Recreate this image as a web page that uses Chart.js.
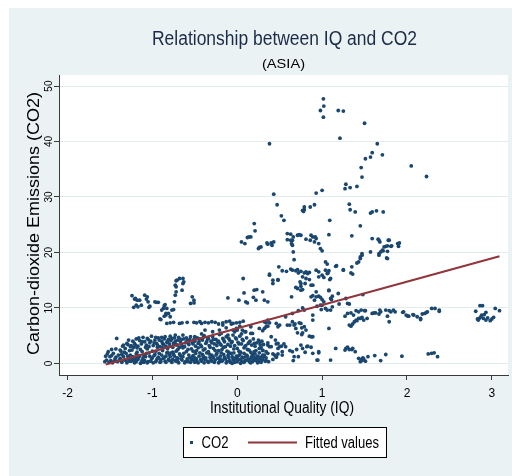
<!DOCTYPE html>
<html>
<head>
<meta charset="utf-8">
<title>Relationship between IQ and CO2</title>
<script src="https://cdn.jsdelivr.net/npm/chart.js@4.4.1/dist/chart.umd.min.js"></script>
<style>
  html, body { margin: 0; padding: 0; background: #fff; }
  canvas { display: block; }
</style>
</head>
<body>
<canvas id="chart" width="512" height="476"></canvas>
<script>
// axis ticks
const iqTicks = [-2, -1, 0, 1, 2, 3];
const co2Ticks = [0, 10, 20, 30, 40, 50];

// fitted line end points (IQ, CO2)
const fittedIQ = [-1.55, 3.09];
const fittedCO2 = [-0.2, 19.3];

// observations [IQ, CO2], grouped by where they sit
const lowCluster = [
  [-1.56,0.3],[-1.55,1.3],[-1.52,2.1],[-1.50,1.2],[-1.49,0.5],[-1.47,0.1],[-1.46,1.8],[-1.44,0.8],[-1.43,2.6],[-1.42,4.5],
  [-1.41,0.3],[-1.40,1.5],[-1.38,0.9],[-1.37,2.2],[-1.36,0.2],[-1.35,3.1],[-1.34,1.2],[-1.33,0.6],[-1.32,2.7],[-1.31,1.8],
  [-1.30,0.1],[-1.29,3.4],[-1.28,0.9],[-1.27,2.3],[-1.26,1.5],[-1.48,2.5],[-1.38,2.4],[-1.34,3.3],[-1.30,3.6],[-1.28,4.2],
  [-1.25,3.2],[-1.23,4.0],[-1.21,3.6],[-1.19,4.4],[-1.17,3.1],[-1.15,4.1],[-1.13,3.5],[-1.11,4.7],[-1.09,3.9],[-1.07,3.3],
  [-1.05,4.3],[-1.03,3.7],[-1.01,4.9],[-0.99,3.2],[-0.97,4.2],[-0.95,3.6],[-0.93,4.6],[-0.91,3.0],[-0.89,4.0],[-0.87,3.4],
  [-0.85,4.8],[-0.83,3.8],[-0.81,4.3],[-0.79,3.1],[-0.77,4.5],[-0.75,3.6],[-0.73,4.0],[-0.71,3.3],[-0.69,4.7],[-0.67,3.9],
  [-0.65,3.2],[-0.63,4.4],[-0.61,3.7],[-0.89,4.7],[-0.79,4.9],[-0.73,5.1],[-0.64,5.1],[-0.50,4.8],
  [-1.24,2.4],[-1.18,2.8],[-1.12,2.1],[-1.06,2.6],[-1.00,2.2],[-0.94,2.9],[-0.88,2.3],[-0.82,2.7],[-0.76,2.0],[-0.70,2.5],[-0.64,2.8],
  [-1.25,0.4],[-1.23,1.2],[-1.21,0.1],[-1.19,1.7],[-1.17,0.7],[-1.15,1.4],[-1.13,0.2],[-1.11,1.0],[-1.09,0.5],[-1.07,1.8],
  [-1.05,0.3],[-1.03,1.3],[-1.01,0.8],[-0.99,0.1],[-0.97,1.6],[-0.95,0.6],[-0.93,1.1],[-0.91,0.2],[-0.89,1.5],[-0.87,0.9],
  [-0.85,0.4],[-0.83,1.9],[-0.81,0.7],[-0.79,1.2],[-0.77,0.2],[-0.75,1.6],[-0.73,0.5],[-0.71,1.0],[-0.69,0.1],[-0.67,1.4],
  [-0.65,0.6],[-0.63,1.8],[-0.61,0.3],[-1.20,0.9],[-1.10,1.5],[-1.00,1.0],[-0.90,0.7],[-0.80,1.6],[-0.70,0.9],[-1.14,0.0],
  [-0.96,0.3],[-0.84,1.3],[-0.72,0.4],
  [-0.59,4.1],[-0.57,3.4],[-0.55,4.8],[-0.53,3.7],[-0.51,4.3],[-0.49,3.1],[-0.47,4.6],[-0.45,3.9],[-0.43,3.3],[-0.41,4.2],
  [-0.39,5.0],[-0.37,3.6],[-0.35,4.4],[-0.33,3.2],[-0.31,4.0],[-0.29,4.8],[-0.27,3.5],[-0.25,4.3],[-0.23,3.8],[-0.21,5.2],
  [-0.19,3.3],[-0.17,4.5],[-0.15,3.9],[-0.13,4.8],[-0.11,3.4],[-0.09,4.2],[-0.07,3.7],[-0.05,5.1],[-0.03,3.2],[-0.01,4.4],
  [0.01,3.8],[0.03,4.9],[0.05,3.5],[0.07,4.1],[0.09,3.0],[0.11,4.6],[0.13,3.6],[0.15,4.0],[0.17,3.3],[0.19,4.4],
  [0.21,3.1],[0.23,3.7],[0.25,4.2],[0.27,3.4],
  [-0.58,2.5],[-0.52,2.2],[-0.46,2.8],[-0.40,2.4],[-0.34,2.1],[-0.28,2.7],[-0.22,2.3],[-0.16,2.9],[-0.10,2.0],[-0.04,2.6],
  [0.02,2.2],[0.08,2.8],[0.14,2.4],[0.20,2.1],[0.26,2.7],[0.30,2.3],
  [-0.59,0.8],[-0.57,1.5],[-0.55,0.2],[-0.53,1.1],[-0.51,0.5],[-0.49,1.8],[-0.47,0.3],[-0.45,1.3],[-0.43,0.7],[-0.41,1.6],
  [-0.39,0.1],[-0.37,1.0],[-0.35,0.4],[-0.33,1.7],[-0.31,0.6],[-0.29,1.2],[-0.27,0.2],[-0.25,1.5],[-0.23,0.9],[-0.21,0.3],
  [-0.19,1.9],[-0.17,0.6],[-0.15,1.1],[-0.13,0.1],[-0.11,1.4],[-0.09,0.5],[-0.07,1.8],[-0.05,0.8],[-0.03,0.2],[-0.01,1.3],
  [0.01,0.6],[0.03,1.6],[0.05,0.3],[0.07,1.0],[0.09,0.4],[0.11,1.5],[0.13,0.7],[0.15,0.2],[0.17,1.2],[0.19,0.5],
  [0.21,1.7],[0.23,0.9],[0.25,0.3],[0.27,1.1],[0.29,0.6],[-0.50,1.0],[-0.40,0.9],[-0.30,1.5],[-0.20,0.7],[-0.10,1.0],
  [0.00,0.9],[0.10,1.2],[0.20,0.8],[0.04,0.0],[0.16,0.1],[-0.06,0.0]
];

// second pass over the dense block, filling the gaps
const lowClusterFill = [
  [-1.54,0.6],[-1.53,1.7],[-1.51,0.2],[-1.48,1.4],[-1.45,0.4],[-1.43,1.1],[-1.39,0.6],[-1.36,1.6],[-1.33,2.0],[-1.31,0.5],
  [-1.29,1.3],[-1.27,0.4],[-1.26,3.0],
  [-1.24,0.8],[-1.22,2.9],[-1.22,0.5],[-1.20,3.3],[-1.19,0.3],[-1.18,2.0],[-1.16,4.6],[-1.16,1.1],[-1.14,2.5],[-1.12,3.9],
  [-1.12,0.6],[-1.10,0.2],[-1.08,2.9],[-1.08,1.2],[-1.06,4.5],[-1.06,0.1],[-1.04,3.0],[-1.04,1.9],[-1.02,0.4],[-1.02,4.0],
  [-0.98,1.4],[-0.98,3.7],[-0.96,2.2],[-0.96,4.7],[-0.94,0.9],[-0.94,3.3],[-0.92,1.8],[-0.92,4.2],[-0.90,0.3],[-0.88,2.8],
  [-0.88,3.6],[-0.86,1.1],[-0.86,4.4],[-0.84,0.2],[-0.84,3.1],[-0.82,2.0],[-0.82,4.0],[-0.80,0.5],[-0.80,3.5],[-0.78,1.9],
  [-0.78,4.1],[-0.76,0.7],[-0.76,2.9],[-0.74,1.3],[-0.74,4.6],[-0.72,3.4],[-0.72,2.2],[-0.70,0.3],[-0.70,4.2],[-0.68,1.7],
  [-0.68,2.9],[-0.66,0.8],[-0.66,4.3],[-0.64,1.2],[-0.62,3.0],[-0.62,0.1],[-0.60,2.1],[-0.60,4.6],
  [-0.58,0.3],[-0.58,3.8],[-0.56,1.0],[-0.56,4.3],[-0.54,2.6],[-0.54,0.6],[-0.52,3.5],[-0.52,1.4],[-0.50,0.2],[-0.50,4.0],
  [-0.48,2.3],[-0.48,0.8],[-0.46,3.6],[-0.46,0.1],[-0.44,1.9],[-0.44,4.4],[-0.42,0.4],[-0.42,3.0],[-0.40,1.3],[-0.40,4.7],
  [-0.38,0.7],[-0.38,2.6],[-0.36,1.9],[-0.36,3.9],[-0.34,0.2],[-0.34,4.5],[-0.32,1.1],[-0.32,2.9],[-0.30,0.4],[-0.30,3.7],
  [-0.28,1.0],[-0.28,4.3],[-0.26,0.6],[-0.26,2.3],[-0.24,1.8],[-0.24,3.2],[-0.22,0.1],[-0.22,4.0],[-0.20,1.3],[-0.20,3.5],
  [-0.18,0.4],[-0.18,2.5],[-0.16,1.6],[-0.16,4.2],[-0.14,0.8],[-0.14,3.0],[-0.12,0.3],[-0.12,2.2],[-0.10,1.7],[-0.10,4.5],
  [-0.08,0.2],[-0.08,3.1],[-0.06,1.2],[-0.06,3.9],[-0.04,0.5],[-0.04,1.9],[-0.02,0.9],[-0.02,4.6],[0.00,0.3],[0.00,2.7],
  [0.02,1.4],[0.02,3.5],[0.04,0.7],[0.04,2.0],[0.06,1.1],[0.06,4.3],[0.08,0.2],[0.08,1.8],[0.10,0.6],[0.10,3.2],
  [0.12,1.3],[0.12,2.5],[0.14,0.4],[0.14,3.8],[0.16,0.9],[0.16,2.0],[0.18,0.3],[0.18,1.6],[0.20,1.1],[0.20,3.6],
  [0.22,0.5],[0.22,2.3],[0.24,1.3],[0.24,0.1],[0.26,0.8],[0.26,1.9],[0.28,0.2],[0.28,2.9],[0.30,0.7],[0.30,1.5],
  [0.31,3.4],[0.29,4.0]
];

const lowMid = [
  [0.36,3.3],[0.40,3.0],[0.46,3.5],[0.48,2.7],[0.52,3.1],[0.55,3.5],[0.57,3.0],[0.48,1.7],[0.46,1.1],[0.53,1.5],
  [0.36,1.8],[0.32,1.2],[0.82,3.0],[0.87,4.8],[0.67,1.2],[0.65,2.1],[0.36,3.7],[0.38,3.0],[0.26,3.9],[0.30,2.4],
  [0.34,1.0],[0.42,0.7],[0.44,1.5],[0.33,0.4],[0.62,2.3],[0.70,2.5],[0.80,2.0],[0.66,0.5],[0.72,1.2],[0.50,3.0],
  [0.53,2.1],[0.46,1.3],[0.42,1.7],[0.34,2.1],[0.32,1.5],[0.30,1.1],[0.34,0.5],[0.37,0.3],
  [0.96,2.1],[1.10,0.6],[1.16,2.7],[1.27,2.4],[1.30,2.9],[1.35,2.5],[1.36,2.7],[1.28,2.7],[1.32,2.5],[1.39,2.1],
  [1.43,0.9],[1.45,0.3],[1.47,0.5],[1.49,0.8],[1.51,0.4],[1.54,1.2],[1.48,1.0],[1.46,0.7],[1.62,1.4],[1.69,0.5],
  [1.75,1.6],[1.94,1.3],[2.25,1.7],[2.29,1.8],[2.32,1.9],[2.36,1.2],[0.94,0.6],[0.75,3.3],[0.77,2.7],[0.83,3.1],
  [0.87,2.9],[0.89,1.8],[0.96,1.9],[0.95,0.6]
];

const band7 = [
  [-0.83,7.2],[-0.79,7.3],[-0.75,7.4],[-0.68,7.2],[-0.65,7.3],[-0.59,7.4],[-0.51,7.4],[-0.48,7.3],[-0.44,7.5],[-0.42,7.2],
  [-0.38,7.4],[-0.34,7.3],[-0.30,7.5],[-0.26,7.4],[-0.22,7.1],[-0.17,7.3],[-0.13,7.5],[-0.09,7.6],[-0.05,7.2],[-0.01,7.3],
  [0.03,7.4],[0.07,7.6],[-0.38,6.0],[-0.42,5.3],[-0.90,7.9],[-0.29,5.7],[-0.19,5.4],[-0.11,5.1],[-0.03,5.7],[0.05,5.3]
];

const leftGroup = [
  [-1.24,12.2],[-1.20,11.7],[-1.18,11.4],[-1.19,10.5],[-1.22,10.1],[-1.17,10.2],[-1.15,11.4],[-1.13,10.5],[-1.09,12.3],[-1.07,11.6],
  [-1.05,11.1],[-1.04,10.1],[-1.03,10.3],[-0.97,11.1],[-0.95,11.0],[-0.93,11.0],[-0.89,9.6],[-0.87,9.9],[-0.86,10.4],[-0.85,10.6],
  [-0.84,9.0],[-0.81,9.0],[-0.84,8.7],[-0.79,8.4],[-0.91,8.0],[-0.86,8.5],[-0.77,9.6],[-0.75,9.7],[-0.74,11.1],[-0.73,12.3],
  [-0.72,12.9],[-0.72,13.8],[-0.73,14.1],[-0.72,14.9],[-0.71,15.0],[-0.68,15.3],[-0.64,15.3],[-0.63,14.7],[-0.64,14.4],[-0.65,13.2],
  [-0.53,12.0],[-0.51,11.4],[-0.55,10.8],[-0.51,10.9],[-0.83,9.9],[-1.21,11.6],[-1.06,12.0]
];

const midScatter = [
  [-0.11,11.8],[0.02,11.4],[0.08,12.7],[0.10,11.1],[0.12,10.9],[0.19,11.9],[0.20,13.2],[0.23,13.3],[0.22,11.4],[0.30,12.9],
  [0.32,11.4],[0.36,11.1],[0.42,14.4],[0.07,15.3],[0.49,17.4],[0.48,15.0],[0.38,16.1],[0.38,15.9],[0.42,15.0],[0.48,15.1],
  [0.53,16.7],[0.58,16.6],[0.63,17.0],[0.69,16.7],[0.72,16.3],[0.75,16.6],[0.79,16.3],[0.83,16.2],[0.85,16.4],[0.65,16.8],
  [0.71,16.9],[0.81,16.5],[0.77,15.6],[0.81,15.3],[0.85,15.1],[0.80,14.4],[0.75,14.4],[0.71,13.5],[0.69,13.7],[0.75,13.2],
  [0.87,14.1],[0.89,14.1],[0.74,14.7],[0.75,13.9],[0.77,13.3],[0.93,16.8],[0.96,16.5],[1.00,15.9],[1.02,15.5],[1.04,16.8],
  [1.06,16.2],[1.10,15.3],[0.96,15.6],[1.07,16.3],[1.09,15.1],
  [0.67,18.7],[0.66,20.1],[0.64,21.6],[0.59,22.3],[0.63,22.2],[0.59,23.4],[0.63,23.3],[0.66,22.8],[0.65,21.3],[0.65,22.2],
  [0.71,23.1],[0.75,23.1],[0.73,23.2],[0.87,23.1],[0.89,22.8],[0.93,22.5],[0.96,21.6],[0.98,20.7],[1.00,20.3],[0.91,21.9],
  [0.81,22.4],[0.86,22.2],[0.92,22.8],
  [0.28,21.0],[0.36,21.5],[0.40,21.7],[0.41,21.3],[0.20,25.2],[0.21,23.9],[0.12,22.7],[0.14,22.8],[0.16,22.8],[0.05,21.9],
  [0.09,21.6],[0.26,20.9],[0.35,21.7],[0.43,21.9],[0.25,20.7],
  [0.32,7.5],[0.36,7.8],[0.32,6.3],[0.36,6.7],[0.46,7.2],[0.48,6.6],[0.59,6.9],[0.65,7.5],[0.67,6.9],[0.69,6.3],
  [0.75,7.2],[0.79,6.6],[0.81,6.0],[0.77,5.5],[0.89,4.8],[0.34,7.3],[0.38,7.3],[0.50,6.9],[0.62,6.9],[0.68,7.1],
  [0.73,7.3],[0.76,6.4],[0.71,5.5],[0.76,5.2],[0.85,4.9],[0.89,7.8],[0.89,8.7],[0.57,8.4],[0.65,9.0],[0.72,9.5],
  [0.77,10.0],[0.79,9.6],[0.94,10.3],[1.00,10.5],[1.04,9.9],[1.06,9.6],[1.10,9.6],[1.20,10.7],[0.64,12.0],[0.87,12.0],
  [0.89,12.2],[0.93,12.0],[0.96,12.1],[0.98,11.9],[1.00,11.5],[0.91,11.4],[1.08,13.1],[1.11,11.5],[1.19,12.6],[1.28,11.7],
  [1.30,10.8],[1.32,10.7],[1.48,12.4],[0.93,12.9],[0.98,10.5],[1.02,11.1],[1.10,11.7],[1.12,12.1],[1.08,13.2],[0.99,9.7],
  [1.12,10.2],[1.08,6.3],
  [-0.21,6.0],[-0.17,6.9],[-0.13,6.4],[-0.07,7.1],[-0.05,6.0],[-0.01,6.3],[0.03,6.7],[0.06,6.0],[0.10,5.7],[0.16,6.6],
  [0.18,5.4],[0.26,6.3],[0.30,5.9],[0.34,6.6],[0.40,4.8],[0.45,4.2],[0.48,3.6],[0.00,6.0],[0.09,5.7],[0.16,5.4]
];

const upperGroup = [
  [1.04,18.3],[1.06,17.9],[1.08,16.7],[1.16,17.5],[1.25,16.9],[1.35,17.4],[1.36,16.1],[1.43,18.3],[1.45,19.2],[1.47,19.8],
  [1.57,20.1],[1.67,19.8],[1.69,20.1],[1.71,20.4],[1.73,21.0],[1.75,21.1],[1.77,20.2],[1.76,19.0],[1.81,21.1],[1.79,22.2],
  [1.89,21.6],[1.91,21.7],[1.90,21.1],[1.67,22.2],[1.59,22.5],[1.66,22.4],[1.68,21.9],[1.78,22.2],[1.82,21.2],[1.77,21.2],
  [1.72,20.3],[1.67,19.5],[1.77,18.9],[1.47,19.5],[1.45,18.9],[1.41,18.1],[1.34,16.3],[1.25,16.8],[1.17,17.6],
  [1.08,23.2],[1.35,23.0],[1.45,24.8],[1.09,25.8],[1.32,28.7],[1.33,27.7],[1.39,27.3],[1.57,27.1],[1.59,27.3],[1.64,27.5],
  [1.72,27.3],[1.00,31.2],[0.93,30.7],[1.28,32.3],[1.27,31.5],[1.33,31.7],[1.41,31.9],[1.46,35.3],[1.47,33.6],[1.51,36.9],
  [1.57,37.2],[1.59,38.0],[1.71,37.6],[1.65,39.6],[1.21,40.6],[1.50,43.3],[1.19,45.6],[1.25,45.5],[0.98,45.6],[1.015,44.4],
  [1.02,46.4],[1.015,47.7],[0.38,39.6],[2.05,35.6],[2.23,33.7],[0.52,26.6],[0.55,25.8],[0.47,28.6],[0.43,30.5],[0.78,27.4],
  [0.79,27.7],[0.86,28.2],[0.91,28.6],[0.77,27.6],[0.79,28.2]
];

const rightBand = [
  [1.27,8.5],[1.30,9.0],[1.34,9.1],[1.37,8.7],[1.40,9.5],[1.43,9.3],[1.46,9.6],[1.51,9.5],[1.59,9.0],[1.61,9.1],
  [1.67,8.9],[1.69,9.3],[1.77,8.5],[1.79,9.5],[1.81,9.3],[1.84,9.6],[1.86,9.3],[1.96,9.3],[1.99,8.7],[2.02,8.5],
  [2.08,8.7],[2.12,8.4],[2.16,8.1],[2.18,8.9],[2.21,9.0],[2.23,9.2],[2.29,9.9],[2.33,9.9],[2.38,9.6],[1.34,6.7],
  [1.36,7.1],[1.38,7.5],[1.40,7.8],[1.43,8.1],[1.47,8.3],[1.49,7.8],[1.53,8.1],[1.79,7.5],[1.32,6.9],[1.41,7.7],
  [1.45,8.1],[1.50,9.5],[1.63,9.1],[1.68,9.6],[1.75,9.6],[1.95,9.2],[2.01,8.5],[2.07,8.8],[2.16,7.9],[2.24,9.3],
  [2.38,9.4]
];

const farRight = [
  [2.81,9.4],[2.86,10.4],[2.89,10.4],[2.93,9.2],[2.83,8.0],[2.85,8.1],[2.87,8.4],[2.90,8.1],[2.93,7.8],[2.95,8.2],
  [2.98,7.7],[3.00,8.0],[3.02,8.3],[2.88,8.7],[2.91,8.8],[3.04,9.9],[3.09,9.5],[2.84,7.8]
];

const co2Points = [...lowCluster, ...lowClusterFill, ...lowMid, ...band7, ...leftGroup,
  ...midScatter, ...upperGroup, ...rightBand, ...farRight]
  .map(([iq, co2]) => ({ x: iq, y: co2 }));

const FONT = "'Liberation Sans', Arial, sans-serif";
const BG = '#eaf2f3';
const GRID = '#e3eced';
const AXIS = '#3a3a3a';

// text helper: optional rotation and squeeze to a given width
function putText(ctx, text, x, y, o) {
  ctx.save();
  ctx.font = `${o.size}px ${FONT}`;
  ctx.fillStyle = o.color || '#000';
  ctx.textBaseline = 'alphabetic';
  ctx.textAlign = 'left';
  ctx.translate(x, y);
  if (o.rotate) ctx.rotate(o.rotate);
  const w = ctx.measureText(text).width;
  const sx = o.width ? o.width / w : 1;
  ctx.scale(sx, 1);
  const off = o.align === 'center' ? -w / 2 : (o.align === 'right' ? -w : 0);
  ctx.fillText(text, off, 0);
  ctx.restore();
}

const stataFrame = {
  id: 'stataFrame',
  beforeDraw(chart) {
    const { ctx, chartArea: a } = chart;
    ctx.save();
    ctx.fillStyle = '#fff';
    ctx.fillRect(0, 0, chart.width, chart.height);
    ctx.fillStyle = BG;
    ctx.fillRect(9, 8, chart.width - 9, chart.height - 8);
    ctx.fillStyle = '#fff';
    ctx.fillRect(a.left, a.top, a.right - a.left, a.bottom - a.top);
    ctx.restore();
  },
  afterDraw(chart) {
    const { ctx } = chart;
    const yScale = chart.scales.y;

    putText(ctx, 'Relationship between IQ and CO2', 284.5, 45, { size: 20, color: '#1c2b4a', align: 'center', width: 265 });
    putText(ctx, '(ASIA)', 283.5, 68, { size: 12, align: 'center', width: 43 });

    // y tick labels, rotated
    co2Ticks.forEach(v => {
      putText(ctx, String(v), 52, yScale.getPixelForValue(v), { size: 10, align: 'center', rotate: -Math.PI / 2 });
    });

    putText(ctx, 'Carbon-dioxide Emissions (CO2)', 39, 223.5, { size: 16, align: 'center', rotate: -Math.PI / 2, width: 263 });
    putText(ctx, 'Institutional Quality (IQ)', 282, 413, { size: 16, align: 'center', width: 144 });

    // legend box
    ctx.save();
    ctx.fillStyle = '#fff';
    ctx.fillRect(183.5, 427.5, 203, 30);
    ctx.strokeStyle = '#000';
    ctx.lineWidth = 1;
    ctx.strokeRect(183.5, 427.5, 203, 30);
    ctx.fillStyle = '#1a476f';
    ctx.fillRect(190, 441, 3, 3);
    ctx.strokeStyle = '#90353b';
    ctx.lineWidth = 2;
    ctx.beginPath();
    ctx.moveTo(248, 442.5);
    ctx.lineTo(297, 442.5);
    ctx.stroke();
    ctx.restore();
    putText(ctx, 'CO2', 201.5, 447.5, { size: 16, width: 27 });
    putText(ctx, 'Fitted values', 305, 447.5, { size: 16, width: 74 });
  }
};

new Chart(document.getElementById('chart'), {
  type: 'scatter',
  data: {
    datasets: [
      {
        type: 'line',
        label: 'Fitted values',
        data: fittedIQ.map((x, i) => ({ x, y: fittedCO2[i] })),
        borderColor: '#90353b',
        borderWidth: 2,
        pointRadius: 0,
        fill: false,
        order: 0
      },
      {
        label: 'CO2',
        data: co2Points,
        backgroundColor: '#1a476f',
        borderWidth: 0,
        pointRadius: 1.9,
        order: 1
      }
    ]
  },
  options: {
    responsive: false,
    animation: false,
    layout: { padding: { top: 75, right: 2, bottom: 0, left: 0 } },
    plugins: {
      legend: { display: false },
      title: { display: false },
      tooltip: { enabled: false }
    },
    scales: {
      x: {
        type: 'linear',
        min: -2.1,
        max: 3.19,
        afterBuildTicks: s => { s.ticks = iqTicks.map(v => ({ value: v })); },
        afterFit: s => { s.height = 101; },
        grid: { drawOnChartArea: false, drawTicks: true, tickLength: 5, tickColor: AXIS },
        border: { display: true, color: AXIS, width: 1 },
        ticks: { color: '#000', font: { size: 12, family: FONT }, padding: 6, maxRotation: 0 }
      },
      y: {
        type: 'linear',
        min: -2.1,
        max: 52,
        afterBuildTicks: s => { s.ticks = co2Ticks.map(v => ({ value: v })); },
        afterFit: s => { s.width = 59; },
        grid: { color: GRID, lineWidth: 1, drawTicks: true, tickLength: 5, tickColor: AXIS },
        border: { display: true, color: AXIS, width: 1 },
        ticks: { display: false }
      }
    }
  },
  plugins: [stataFrame]
});
</script>
</body>
</html>
